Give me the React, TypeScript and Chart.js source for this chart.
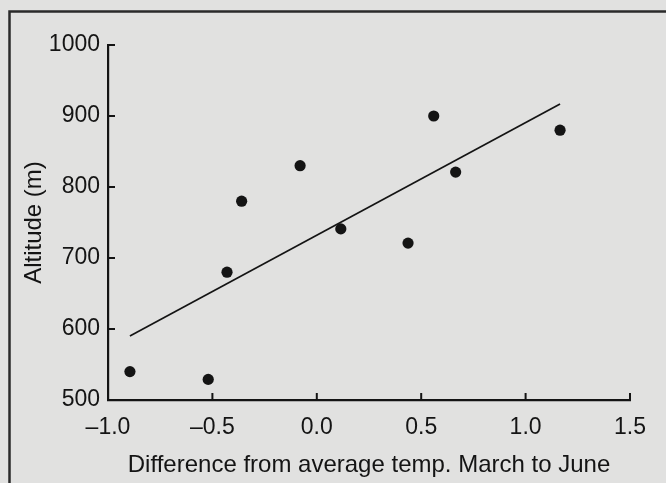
import React, { useEffect, useRef } from "react";
import { Chart, registerables } from "chart.js";

Chart.register(...registerables);

// ---- data ----
const pointX = [-0.895, -0.52, -0.43, -0.36, -0.08, 0.115, 0.437, 0.56, 0.665, 1.165];
const pointY = [540, 529, 680, 780, 830, 741, 721, 900, 821, 880];
const trendX = [-0.895, 1.165];
const trendY = [590, 917];
const xTicks = [-1.0, -0.5, 0.0, 0.5, 1.0, 1.5];
const yTicks = [500, 600, 700, 800, 900, 1000];
const xTitle = "Difference from average temp. March to June";
const yTitle = "Altitude (m)";

const BG = "#e1e1e0";
const INK = "#141414";
const FONT = "'Liberation Sans', Arial, Helvetica, sans-serif";

const framePlugin = {
  id: "frameAndTicks",
  beforeDraw(chart: any) {
    const ctx = chart.ctx;
    ctx.save();
    ctx.fillStyle = BG;
    ctx.fillRect(0, 0, chart.width, chart.height);
    ctx.restore();
  },
  afterDraw(chart: any) {
    const ctx = chart.ctx;
    const area = chart.chartArea;
    const xs = chart.scales.x;
    const ys = chart.scales.y;
    ctx.save();
    // outer frame (left and top edges)
    ctx.strokeStyle = "#2a2a2a";
    ctx.lineWidth = 2.5;
    ctx.beginPath();
    ctx.moveTo(9.5, chart.height);
    ctx.lineTo(9.5, 11.5);
    ctx.lineTo(chart.width, 11.5);
    ctx.stroke();
    // inward tick marks
    ctx.strokeStyle = INK;
    ctx.lineWidth = 2;
    ctx.beginPath();
    xs.ticks.forEach((t: any) => {
      const px = xs.getPixelForValue(t.value);
      ctx.moveTo(px, area.bottom);
      ctx.lineTo(px, area.bottom - 7);
    });
    ys.ticks.forEach((t: any) => {
      const py = ys.getPixelForValue(t.value);
      ctx.moveTo(area.left, py);
      ctx.lineTo(area.left + 7, py);
    });
    ctx.stroke();
    ctx.restore();
  },
};

export default function App() {
  const ref = useRef<HTMLCanvasElement>(null);

  useEffect(() => {
    document.body.style.background = BG;
    const canvas = ref.current;
    if (!canvas) return;
    const chart = new Chart(canvas, {
      type: "scatter",
      data: {
        datasets: [
          {
            label: "Observations",
            data: pointX.map((x, i) => ({ x, y: pointY[i] })),
            backgroundColor: INK,
            borderColor: INK,
            pointRadius: 5.6,
            pointHoverRadius: 5.6,
            borderWidth: 0,
          },
          {
            label: "Trend",
            data: trendX.map((x, i) => ({ x, y: trendY[i] })),
            showLine: true,
            borderColor: INK,
            borderWidth: 1.7,
            pointRadius: 0,
            fill: false,
          },
        ],
      },
      options: {
        responsive: false,
        animation: false,
        devicePixelRatio: 1,
        layout: { padding: { left: 0, top: 45, right: 36, bottom: 0 } },
        plugins: {
          legend: { display: false },
          tooltip: { enabled: false },
        },
        scales: {
          x: {
            type: "linear",
            min: -1,
            max: 1.5,
            afterBuildTicks: (s: any) => {
              s.ticks = xTicks.map((v) => ({ value: v }));
            },
            afterFit: (s: any) => {
              s.height = 83;
            },
            grid: { display: false, drawTicks: false },
            border: { display: true, color: INK, width: 2.2 },
            ticks: {
              padding: 14,
              color: INK,
              font: { family: FONT, size: 23 },
              callback: (v: any) => Number(v).toFixed(1).replace("-", "\u2013"),
            },
            title: {
              display: true,
              text: xTitle,
              color: INK,
              font: { family: FONT, size: 24 },
              padding: { top: 0, bottom: 3 },
            },
          },
          y: {
            type: "linear",
            min: 500,
            max: 1000,
            afterBuildTicks: (s: any) => {
              s.ticks = yTicks.map((v) => ({ value: v }));
            },
            afterFit: (s: any) => {
              s.width = 108;
            },
            grid: { display: false, drawTicks: false },
            border: { display: true, color: INK, width: 2.2 },
            ticks: {
              padding: 8,
              color: INK,
              font: { family: FONT, size: 23 },
              callback: (v: any) => String(v),
            },
            title: {
              display: true,
              text: yTitle,
              color: INK,
              font: { family: FONT, size: 24 },
              padding: { top: 20, bottom: 0 },
            },
          },
        },
      },
      plugins: [framePlugin],
    } as any);
    return () => chart.destroy();
  }, []);

  return (
    <div
      style={{
        position: "fixed",
        left: 0,
        top: 0,
        width: 666,
        height: 483,
        background: BG,
      }}
    >
      <canvas ref={ref} width={666} height={483} style={{ display: "block", width: 666, height: 483 }} />
    </div>
  );
}
